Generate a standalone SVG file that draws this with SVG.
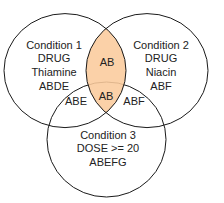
<svg xmlns="http://www.w3.org/2000/svg" width="224" height="203" viewBox="0 0 224 203">
<style>
.c{fill:none;stroke:#1a1a1a;stroke-width:1}
.t{font-family:"Liberation Sans",Arial,sans-serif;font-size:11px;fill:#222;text-anchor:middle}
</style>
<rect width="224" height="203" fill="#fff"/>
<g id="connectors"></g>
<g id="circle3">
<ellipse class="c" cx="106.5" cy="139.5" rx="59.5" ry="57.5"/>
<text class="t" x="108" y="139">Condition 3</text>
<text class="t" x="108" y="152">DOSE &gt;= 20</text>
<text class="t" x="108" y="166">ABEFG</text>
</g>
<g id="lens-ab">
<path d="M106,28.4 A61,57 0 0,1 106,112.8 A61,57 0 0,1 106,28.4 Z" fill="#FBCB9C" fill-opacity="0.88"/>
<text class="t" x="107" y="66">AB</text>
</g>
<g id="circle1">
<ellipse class="c" cx="65" cy="70.6" rx="61" ry="57"/>
<text class="t" x="54" y="49">Condition 1</text>
<text class="t" x="54" y="62">DRUG</text>
<text class="t" x="54" y="76">Thiamine</text>
<text class="t" x="54" y="90">ABDE</text>
</g>
<g id="circle2">
<ellipse class="c" cx="147" cy="70.6" rx="61" ry="57"/>
<text class="t" x="161" y="49">Condition 2</text>
<text class="t" x="161" y="62">DRUG</text>
<text class="t" x="161" y="76">Niacin</text>
<text class="t" x="161" y="90">ABF</text>
</g>
<g id="lens-abc">
<text class="t" x="106" y="100">AB</text>
</g>
<g id="abe"><text class="t" x="76" y="105">ABE</text></g>
<g id="abf"><text class="t" x="134" y="105">ABF</text></g>
</svg>
